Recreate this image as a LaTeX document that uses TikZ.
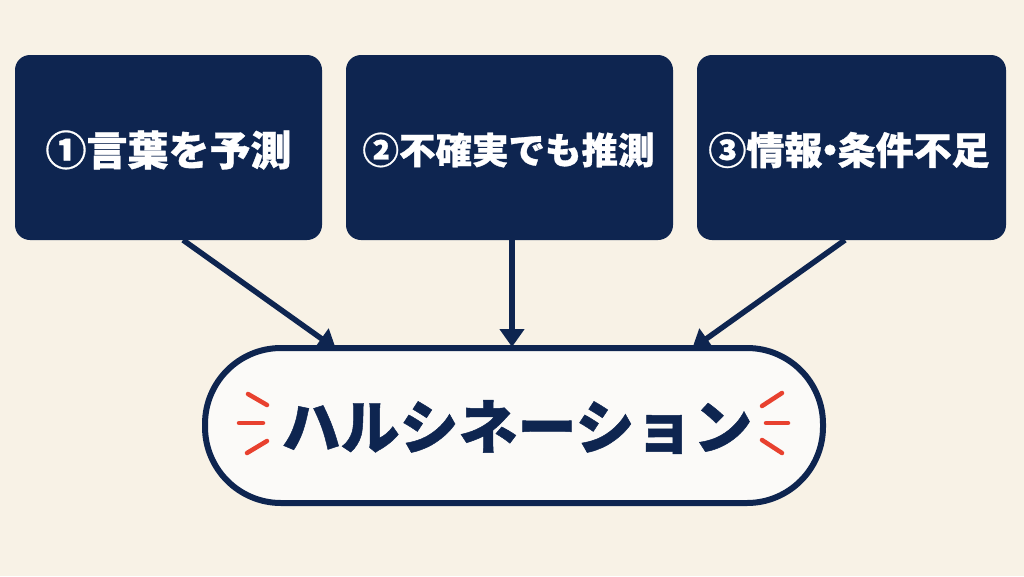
\documentclass[tikz,border=0pt]{standalone}
\usepackage{fontspec}
\newfontfamily\cjk{Noto Sans CJK JP}[BoldFeatures={FakeBold=0.8}]
\usetikzlibrary{arrows.meta}
\definecolor{bg}{HTML}{F8F2E6}
\definecolor{navy}{HTML}{0E2550}
\definecolor{pill}{HTML}{FBFAF8}
\definecolor{red}{HTML}{E8412F}
\tikzset{
  box/.style={fill=navy, rounded corners=15pt, inner sep=0pt},
  lbl/.style={text=white, font=\cjk\bfseries},
  arr/.style={draw=navy, line width=5.5pt, -{Triangle[length=18pt,width=24pt]}},
  spark/.style={draw=red, line width=4.5pt, line cap=round}
}
\begin{document}
\begin{tikzpicture}[x=1pt,y=-1pt]
\fill[bg] (0,0) rectangle (1024,576);
\useasboundingbox (0,0) rectangle (1024,576);
% boxes
\node[box, minimum width=307pt, minimum height=185pt] (b1) at (168.5,147.5) {};
\node[box, minimum width=327pt, minimum height=185pt] (b2) at (509.5,147.5) {};
\node[box, minimum width=309pt, minimum height=185pt] (b3) at (851.5,147.5) {};
\node[lbl, font=\cjk\bfseries\fontsize{41}{45}\selectfont] (t1) at (168.5,150) {①言葉を予測};
\node[lbl, font=\cjk\bfseries\fontsize{36.5}{40}\selectfont] (t2) at (508.5,150) {②不確実でも推測};
\node[lbl, font=\cjk\bfseries\fontsize{38}{42}\selectfont] (t3) at (849,150) {③情報\hspace{-0.3em}・\hspace{-0.3em}条件不足};
% pill
\node[draw=navy, line width=6pt, fill=pill, rounded corners=76pt, minimum width=618pt, minimum height=155pt, inner sep=0pt] (p) at (514,425.5) {};
\node[text=navy, font=\cjk\bfseries\fontsize{59}{64}\selectfont] (pt) at (517,427) {ハルシネーション};
% arrows
\coordinate (s1) at (183,240);
\coordinate (e1) at (336,349);
\coordinate (s2) at (512,240);
\coordinate (e2) at (512,347);
\coordinate (s3) at (845,240);
\coordinate (e3) at (692,349);
\draw[arr] (s1) -- (e1);
\draw[arr] (s2) -- (e2);
\draw[arr] (s3) -- (e3);
% sparks
\draw[spark] (248,394) -- (267,405);
\draw[spark] (239,423) -- (263,423);
\draw[spark] (247,453) -- (267,441);
\draw[spark] (762,406) -- (782,393);
\draw[spark] (766,423) -- (788,423);
\draw[spark] (762,440) -- (782,453);
\end{tikzpicture}
\end{document}
